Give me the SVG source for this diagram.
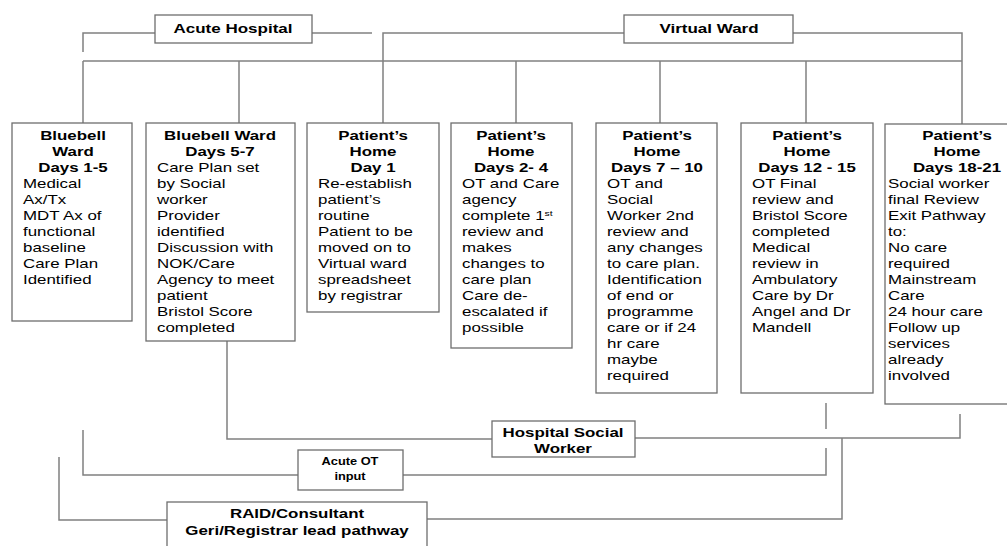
<svg xmlns="http://www.w3.org/2000/svg" width="1007" height="546" viewBox="0 0 1007 546">
<style>
.t{font-family:"Liberation Sans",Arial,sans-serif;font-size:13px;fill:#000}
.h{font-weight:bold;text-anchor:middle}
.s{font-size:10px}
.box{fill:#fff;stroke:#6e6e6e;stroke-width:1.3}
.ln{fill:none;stroke:#808080;stroke-width:1.5}
</style>
<rect width="1007" height="546" fill="#fff"/>
<g id="connectors" class="ln">
<polyline points="83,52 83,33 155,33"/>
<line x1="312" y1="33" x2="372" y2="33"/>
<polyline points="383,123 383,33 624,33"/>
<polyline points="793,33 962,33 962,124"/>
<line x1="83" y1="61" x2="962" y2="61"/>
<line x1="83" y1="61" x2="83" y2="123"/>
<line x1="239" y1="61" x2="239" y2="123"/>
<line x1="516" y1="61" x2="516" y2="123"/>
<line x1="660" y1="61" x2="660" y2="123"/>
<line x1="806" y1="61" x2="806" y2="123"/>
<polyline points="227,341 227,439 492,439"/>
<polyline points="635,438 960,438 960,414"/>
<line x1="826" y1="403" x2="826" y2="429"/>
<polyline points="83,430 83,475 298,475"/>
<polyline points="403,475 826,475 826,448"/>
<polyline points="59,457 59,520 167,520"/>
<polyline points="427,519 842,519 842,438"/>
</g>
<g id="acute-hospital">
<rect class="box" x="155" y="15" width="157" height="28"/>
<text class="t h" transform="translate(233,33) scale(1.26,1)" style="font-size:13.5px">Acute Hospital</text>
</g>
<g id="virtual-ward">
<rect class="box" x="624" y="15" width="169" height="28"/>
<text class="t h" transform="translate(709,33) scale(1.26,1)" style="font-size:13.5px">Virtual Ward</text>
</g>
<g id="box1">
<rect class="box" x="12" y="123" width="120" height="198"/>
<text class="t h" transform="translate(73,140) scale(1.3,1)"><tspan x="0" y="0">Bluebell</tspan><tspan x="0" y="16">Ward</tspan><tspan x="0" y="32">Days 1-5</tspan></text>
<text class="t" transform="translate(23,188) scale(1.3,1)"><tspan x="0" y="0">Medical</tspan><tspan x="0" y="16">Ax/Tx</tspan><tspan x="0" y="32">MDT Ax of</tspan><tspan x="0" y="48">functional</tspan><tspan x="0" y="64">baseline</tspan><tspan x="0" y="80">Care Plan</tspan><tspan x="0" y="96">Identified</tspan></text>
</g>
<g id="box2">
<rect class="box" x="146" y="123" width="149" height="218"/>
<text class="t h" transform="translate(220,140) scale(1.3,1)"><tspan x="0" y="0">Bluebell Ward</tspan><tspan x="0" y="16">Days 5-7</tspan></text>
<text class="t" transform="translate(157,172) scale(1.3,1)"><tspan x="0" y="0">Care Plan set</tspan><tspan x="0" y="16">by Social</tspan><tspan x="0" y="32">worker</tspan><tspan x="0" y="48">Provider</tspan><tspan x="0" y="64">identified</tspan><tspan x="0" y="80">Discussion with</tspan><tspan x="0" y="96">NOK/Care</tspan><tspan x="0" y="112">Agency to meet</tspan><tspan x="0" y="128">patient</tspan><tspan x="0" y="144">Bristol Score</tspan><tspan x="0" y="160">completed</tspan></text>
</g>
<g id="box3">
<rect class="box" x="307" y="123" width="132" height="189"/>
<text class="t h" transform="translate(373,140) scale(1.3,1)"><tspan x="0" y="0">Patient’s</tspan><tspan x="0" y="16">Home</tspan><tspan x="0" y="32">Day 1</tspan></text>
<text class="t" transform="translate(318,188) scale(1.3,1)"><tspan x="0" y="0">Re-establish</tspan><tspan x="0" y="16">patient’s</tspan><tspan x="0" y="32">routine</tspan><tspan x="0" y="48">Patient to be</tspan><tspan x="0" y="64">moved on to</tspan><tspan x="0" y="80">Virtual ward</tspan><tspan x="0" y="96">spreadsheet</tspan><tspan x="0" y="112">by registrar</tspan></text>
</g>
<g id="box4">
<rect class="box" x="451" y="123" width="121" height="225"/>
<text class="t h" transform="translate(511,140) scale(1.3,1)"><tspan x="0" y="0">Patient’s</tspan><tspan x="0" y="16">Home</tspan><tspan x="0" y="32">Days 2- 4</tspan></text>
<text class="t" transform="translate(462,188) scale(1.3,1)"><tspan x="0" y="0">OT and Care</tspan><tspan x="0" y="16">agency</tspan><tspan x="0" y="32">complete 1<tspan dy="-4" style="font-size:8px">st</tspan></tspan><tspan x="0" y="48">review and</tspan><tspan x="0" y="64">makes</tspan><tspan x="0" y="80">changes to</tspan><tspan x="0" y="96">care plan</tspan><tspan x="0" y="112">Care de-</tspan><tspan x="0" y="128">escalated if</tspan><tspan x="0" y="144">possible</tspan></text>
</g>
<g id="box5">
<rect class="box" x="596" y="123" width="121" height="270"/>
<text class="t h" transform="translate(657,140) scale(1.3,1)"><tspan x="0" y="0">Patient’s</tspan><tspan x="0" y="16">Home</tspan><tspan x="0" y="32">Days 7 – 10</tspan></text>
<text class="t" transform="translate(607,188) scale(1.3,1)"><tspan x="0" y="0">OT and</tspan><tspan x="0" y="16">Social</tspan><tspan x="0" y="32">Worker 2nd</tspan><tspan x="0" y="48">review and</tspan><tspan x="0" y="64">any changes</tspan><tspan x="0" y="80">to care plan.</tspan><tspan x="0" y="96">Identification</tspan><tspan x="0" y="112">of end or</tspan><tspan x="0" y="128">programme</tspan><tspan x="0" y="144">care or if 24</tspan><tspan x="0" y="160">hr care</tspan><tspan x="0" y="176">maybe</tspan><tspan x="0" y="192">required</tspan></text>
</g>
<g id="box6">
<rect class="box" x="741" y="123" width="132" height="270"/>
<text class="t h" transform="translate(807,140) scale(1.3,1)"><tspan x="0" y="0">Patient’s</tspan><tspan x="0" y="16">Home</tspan><tspan x="0" y="32">Days 12 - 15</tspan></text>
<text class="t" transform="translate(752,188) scale(1.3,1)"><tspan x="0" y="0">OT Final</tspan><tspan x="0" y="16">review and</tspan><tspan x="0" y="32">Bristol Score</tspan><tspan x="0" y="48">completed</tspan><tspan x="0" y="64">Medical</tspan><tspan x="0" y="80">review in</tspan><tspan x="0" y="96">Ambulatory</tspan><tspan x="0" y="112">Care by Dr</tspan><tspan x="0" y="128">Angel and Dr</tspan><tspan x="0" y="144">Mandell</tspan></text>
</g>
<g id="box7">
<rect class="box" x="885" y="124" width="130" height="280"/>
<text class="t h" transform="translate(957,140) scale(1.3,1)"><tspan x="0" y="0">Patient’s</tspan><tspan x="0" y="16">Home</tspan><tspan x="0" y="32">Days 18-21</tspan></text>
<text class="t" transform="translate(888,188) scale(1.3,1)"><tspan x="0" y="0">Social worker</tspan><tspan x="0" y="16">final Review</tspan><tspan x="0" y="32">Exit Pathway</tspan><tspan x="0" y="48">to:</tspan><tspan x="0" y="64">No care</tspan><tspan x="0" y="80">required</tspan><tspan x="0" y="96">Mainstream</tspan><tspan x="0" y="112">Care</tspan><tspan x="0" y="128">24 hour care</tspan><tspan x="0" y="144">Follow up</tspan><tspan x="0" y="160">services</tspan><tspan x="0" y="176">already</tspan><tspan x="0" y="192">involved</tspan></text>
</g>
<g id="hospital-social-worker">
<rect class="box" x="492" y="421" width="143" height="36"/>
<text class="t h" transform="translate(563,437) scale(1.3,1)"><tspan x="0" y="0">Hospital Social</tspan><tspan x="0" y="16">Worker</tspan></text>
</g>
<g id="acute-ot">
<rect class="box" x="298" y="450" width="105" height="40"/>
<text class="t h s" transform="translate(350,465) scale(1.28,1)"><tspan x="0" y="0">Acute OT</tspan><tspan x="0" y="15">input</tspan></text>
</g>
<g id="raid">
<rect class="box" x="167" y="502" width="260" height="50"/>
<text class="t h" transform="translate(297,518) scale(1.3,1)"><tspan x="0" y="0">RAID/Consultant</tspan><tspan x="0" y="17">Geri/Registrar lead pathway</tspan></text>
</g>
</svg>
